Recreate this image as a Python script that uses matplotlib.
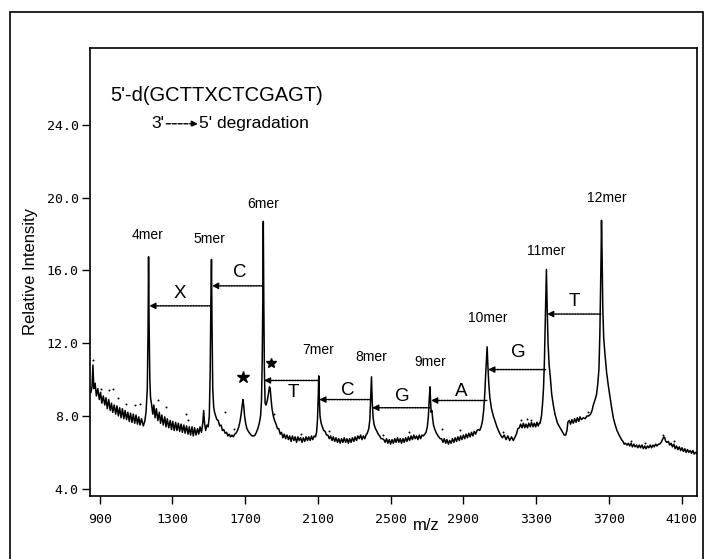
import numpy as np
import matplotlib
matplotlib.use("Agg")
import matplotlib.pyplot as plt
from matplotlib.patches import Rectangle

plt.rcParams['font.family'] = ['Liberation Sans', 'DejaVu Sans']

# spectrum trace as (m/z, relative intensity) pairs
spectrum = [
    (852, 9.3), (858, 9.6), (863, 10.8), (868, 9.5), (875, 9.8), (882, 9.1), (890, 9.5), (898, 8.9),
    (905, 9.3), (912, 8.7), (920, 9.1), (928, 8.6), (935, 9.0), (942, 8.4), (950, 8.9), (958, 8.3),
    (965, 8.7), (972, 8.2), (980, 8.6), (988, 8.1), (995, 8.55), (1003, 8.0), (1010, 8.45), (1018, 7.9),
    (1025, 8.4), (1033, 7.85), (1040, 8.3), (1048, 7.8), (1055, 8.2), (1063, 7.7), (1070, 8.15),
    (1078, 7.65), (1085, 8.1), (1093, 7.6), (1100, 8.05), (1108, 7.55), (1115, 7.95), (1122, 7.5),
    (1130, 7.85), (1140, 7.45), (1148, 7.7), (1155, 8.2), (1162, 9.5), (1166, 12.5), (1169, 16.75),
    (1172, 13.0), (1176, 10.0), (1180, 9.0), (1186, 8.6), (1192, 8.1), (1198, 8.6), (1205, 7.9),
    (1212, 8.4), (1220, 7.75), (1228, 8.2), (1235, 7.6), (1242, 8.05), (1250, 7.5), (1258, 7.95),
    (1265, 7.4), (1272, 7.85), (1280, 7.35), (1288, 7.75), (1295, 7.25), (1302, 7.7), (1310, 7.2),
    (1318, 7.65), (1325, 7.2), (1333, 7.6), (1340, 7.15), (1348, 7.55), (1355, 7.1), (1363, 7.5),
    (1370, 7.05), (1378, 7.45), (1386, 7.0), (1393, 7.4), (1400, 6.95), (1408, 7.4), (1415, 6.9),
    (1422, 7.35), (1430, 6.95), (1438, 7.3), (1445, 7.0), (1452, 7.4), (1460, 7.1), (1467, 7.6),
    (1472, 8.3), (1477, 7.6), (1483, 7.2), (1490, 7.5), (1497, 7.4), (1503, 8.0), (1508, 10.5),
    (1512, 14.5), (1515, 16.6), (1518, 13.0), (1522, 9.5), (1527, 8.5), (1532, 8.2), (1538, 8.0),
    (1545, 7.8), (1552, 7.75), (1560, 7.45), (1568, 7.5), (1575, 7.2), (1583, 7.25), (1590, 7.05),
    (1598, 7.1), (1605, 6.9), (1612, 7.0), (1620, 6.85), (1628, 6.95), (1635, 6.85), (1643, 7.0),
    (1650, 7.05), (1658, 7.2), (1665, 7.4), (1672, 7.7), (1678, 8.1), (1684, 8.6), (1688, 8.9),
    (1692, 8.6), (1697, 8.0), (1703, 7.6), (1710, 7.3), (1718, 7.15), (1725, 7.05), (1733, 6.95),
    (1740, 6.9), (1748, 6.9), (1755, 6.95), (1762, 7.1), (1770, 7.3), (1778, 7.6), (1785, 8.0),
    (1790, 8.8), (1794, 11.0), (1797, 14.0), (1800, 18.7), (1803, 14.0), (1806, 10.5), (1810, 8.7),
    (1815, 8.6), (1821, 8.8), (1828, 9.2), (1834, 9.6), (1838, 9.5), (1842, 9.0), (1848, 8.4),
    (1855, 8.0), (1862, 7.75), (1870, 7.55), (1878, 7.3), (1885, 7.3), (1893, 7.0), (1900, 7.1),
    (1908, 6.8), (1915, 7.0), (1923, 6.75), (1930, 6.95), (1938, 6.7), (1945, 6.9), (1953, 6.6),
    (1960, 6.9), (1968, 6.65), (1975, 6.85), (1983, 6.55), (1990, 6.85), (1998, 6.65), (2005, 6.8),
    (2013, 6.55), (2020, 6.8), (2028, 6.6), (2035, 6.85), (2043, 6.65), (2050, 6.85), (2058, 6.65),
    (2065, 6.9), (2072, 6.7), (2080, 6.9), (2087, 6.85), (2093, 7.1), (2098, 7.8), (2102, 9.0),
    (2105, 10.2), (2108, 9.0), (2112, 8.0), (2118, 7.6), (2125, 7.4), (2132, 7.2), (2140, 7.15),
    (2148, 6.95), (2155, 6.95), (2163, 6.75), (2170, 6.9), (2178, 6.65), (2185, 6.85), (2193, 6.6),
    (2200, 6.8), (2208, 6.55), (2215, 6.75), (2223, 6.5), (2230, 6.75), (2238, 6.55), (2245, 6.8),
    (2253, 6.55), (2260, 6.75), (2268, 6.5), (2275, 6.75), (2283, 6.55), (2290, 6.8), (2298, 6.6),
    (2305, 6.85), (2313, 6.65), (2320, 6.9), (2328, 6.75), (2335, 6.95), (2343, 6.7), (2350, 6.9),
    (2358, 6.75), (2365, 6.95), (2372, 7.05), (2380, 7.3), (2386, 7.8), (2390, 8.8), (2395, 10.15),
    (2399, 8.8), (2404, 7.9), (2410, 7.5), (2417, 7.3), (2425, 7.15), (2432, 7.0), (2440, 6.9),
    (2448, 6.75), (2455, 6.75), (2463, 6.7), (2470, 6.55), (2478, 6.75), (2485, 6.5), (2493, 6.7),
    (2500, 6.45), (2508, 6.7), (2515, 6.5), (2523, 6.75), (2530, 6.55), (2538, 6.8), (2545, 6.55),
    (2553, 6.75), (2560, 6.5), (2568, 6.75), (2575, 6.55), (2583, 6.8), (2590, 6.6), (2598, 6.85),
    (2605, 6.65), (2613, 6.9), (2620, 6.7), (2628, 6.95), (2635, 6.75), (2643, 6.9), (2650, 6.7),
    (2658, 6.95), (2665, 6.75), (2673, 6.95), (2680, 6.9), (2688, 7.0), (2695, 7.1), (2702, 7.4),
    (2708, 8.0), (2713, 9.0), (2717, 9.6), (2720, 8.8), (2723, 8.2), (2727, 8.3), (2731, 7.9),
    (2736, 7.5), (2742, 7.3), (2750, 7.1), (2758, 6.95), (2765, 6.85), (2773, 6.75), (2780, 6.75),
    (2788, 6.55), (2795, 6.75), (2803, 6.5), (2810, 6.7), (2818, 6.45), (2825, 6.65), (2833, 6.5),
    (2840, 6.75), (2848, 6.55), (2855, 6.8), (2863, 6.6), (2870, 6.85), (2878, 6.65), (2885, 6.9),
    (2893, 6.7), (2900, 6.95), (2908, 6.75), (2915, 7.0), (2923, 6.8), (2930, 7.05), (2938, 6.85),
    (2945, 7.1), (2953, 6.9), (2960, 7.15), (2968, 7.0), (2975, 7.2), (2983, 7.25), (2990, 7.2),
    (2998, 7.4), (3005, 7.7), (3012, 8.3), (3018, 9.2), (3023, 10.3), (3027, 11.0), (3031, 11.8),
    (3035, 10.8), (3040, 9.8), (3046, 9.0), (3055, 8.4), (3065, 8.0), (3075, 7.7), (3085, 7.4),
    (3095, 7.15), (3105, 6.95), (3115, 6.8), (3125, 6.95), (3135, 6.7), (3145, 6.9), (3155, 6.65),
    (3165, 6.85), (3175, 6.65), (3185, 6.85), (3192, 7.0), (3200, 7.3), (3208, 7.35), (3215, 7.55),
    (3223, 7.35), (3230, 7.6), (3238, 7.35), (3245, 7.55), (3253, 7.35), (3260, 7.6), (3268, 7.4),
    (3275, 7.65), (3283, 7.4), (3290, 7.6), (3298, 7.4), (3305, 7.65), (3312, 7.45), (3318, 7.6),
    (3322, 7.6), (3330, 8.0), (3336, 8.7), (3341, 9.5), (3346, 11.0), (3350, 12.8), (3354, 14.8),
    (3357, 16.05), (3361, 14.0), (3366, 12.0), (3372, 10.8), (3378, 10.2), (3386, 9.2), (3395, 8.6),
    (3404, 8.1), (3418, 7.6), (3432, 7.35), (3446, 7.1), (3455, 6.95), (3463, 6.95), (3470, 7.2),
    (3475, 7.65), (3482, 7.75), (3490, 7.55), (3497, 7.8), (3505, 7.6), (3512, 7.85), (3520, 7.65),
    (3527, 7.9), (3535, 7.7), (3542, 7.95), (3550, 7.8), (3560, 7.9), (3570, 7.85), (3580, 8.0),
    (3590, 8.0), (3600, 8.1), (3608, 8.3), (3615, 8.6), (3625, 8.9), (3633, 9.2), (3640, 9.8),
    (3646, 10.6), (3651, 12.5), (3655, 15.0), (3658, 17.0), (3660, 18.75), (3663, 17.0), (3667, 14.0),
    (3672, 12.3), (3679, 11.4), (3688, 10.4), (3697, 9.7), (3706, 9.1), (3715, 8.5), (3725, 7.9),
    (3734, 7.55), (3745, 7.2), (3757, 6.95), (3770, 6.7), (3778, 6.6), (3785, 6.45), (3792, 6.5),
    (3800, 6.4), (3808, 6.5), (3815, 6.35), (3823, 6.5), (3830, 6.3), (3838, 6.45), (3845, 6.3),
    (3853, 6.4), (3860, 6.25), (3868, 6.4), (3875, 6.25), (3883, 6.4), (3890, 6.2), (3898, 6.35),
    (3905, 6.2), (3913, 6.35), (3920, 6.25), (3928, 6.4), (3935, 6.25), (3943, 6.4), (3950, 6.3),
    (3958, 6.45), (3965, 6.35), (3973, 6.45), (3980, 6.45), (3988, 6.55), (3995, 6.7), (4003, 6.85),
    (4008, 6.8), (4013, 6.6), (4020, 6.55), (4028, 6.6), (4035, 6.4), (4043, 6.5), (4050, 6.3),
    (4058, 6.45), (4065, 6.2), (4073, 6.35), (4080, 6.15), (4088, 6.3), (4095, 6.1), (4103, 6.25),
    (4110, 6.05), (4118, 6.2), (4125, 6.0), (4133, 6.15), (4140, 6.0), (4148, 6.1), (4155, 5.95),
    (4163, 6.1), (4170, 5.9), (4178, 6.0), (4184, 5.95),
]
mz = [p[0] for p in spectrum]
intensity = [p[1] for p in spectrum]

# faint dotted second trace
dot_mz = [863, 909, 950, 973, 1000, 1046, 1092, 1120, 1221, 1267, 1376, 1386, 1587, 1640, 1860,
          2010, 2160, 2460, 2600, 2781, 2881, 3120, 3220, 3248, 3275, 3586, 3820, 3900, 3998, 4060]
dot_int = [11.1, 9.47, 9.4, 9.47, 9.0, 8.65, 8.6, 8.65, 8.9, 8.5, 8.13, 7.77, 8.22, 7.3, 8.1,
           7.0, 7.2, 6.95, 7.1, 7.3, 7.25, 7.1, 7.8, 7.85, 7.8, 8.2, 6.6, 6.5, 6.95, 6.6]

# peak labels
mer_labels = ['4mer', '5mer', '6mer', '7mer', '8mer', '9mer', '10mer', '11mer', '12mer']
mer_x = [1162, 1505, 1800, 2102, 2395, 2716, 3037, 3357, 3687]
mer_y = [17.95, 17.7, 19.65, 11.6, 11.25, 10.95, 13.4, 17.05, 20.0]

# loss arrows: from peak, to peak, height, residue label and its position
arr_from = [1512, 1797, 2101, 2392, 2716, 3029, 3352, 3656]
arr_to = [1172, 1517, 1803, 2107, 2398, 2722, 3036, 3360]
arr_y = [14.05, 15.15, 9.95, 8.9, 8.45, 8.85, 10.55, 13.6]
res_labels = ['X', 'C', 'T', 'C', 'G', 'A', 'G', 'T']
res_x = [1342, 1668, 1964, 2267, 2567, 2890, 3201, 3513]
res_y = [14.72, 15.87, 9.29, 9.42, 9.07, 9.33, 11.46, 14.3]

star_x = [1688, 1845]
star_y = [10.16, 10.89]

fig = plt.figure(figsize=(7.04, 5.59), dpi=100)
ax = fig.add_axes([0.1276, 0.1127, 0.8624, 0.8023])

ax.plot(mz, intensity, color='black', lw=1.1)
ax.scatter(dot_mz, dot_int, s=2, color='black', lw=0)

for t, x, y in zip(mer_labels, mer_x, mer_y):
    ax.text(x, y, t, ha='center', va='center', fontsize=10)

for x0, x1, y, t, tx, ty in zip(arr_from, arr_to, arr_y, res_labels, res_x, res_y):
    ax.annotate('', xy=(x1, y), xytext=(x0, y),
                arrowprops=dict(arrowstyle='-|>', color='black', lw=1.1, linestyle=(0, (1.0, 0.8)),
                                mutation_scale=9, shrinkA=0, shrinkB=0))
    ax.text(tx, ty, t, ha='center', va='center', fontsize=13.5)

ax.plot(star_x[0], star_y[0], marker='*', color='black', ms=9, ls='none')
ax.plot(star_x[1], star_y[1], marker='*', color='black', ms=7, ls='none')

ax.text(0.033, 0.894, "5'-d(GCTTXCTCGAGT)", transform=ax.transAxes, fontsize=14.5, va='center')
ax.text(0.102, 0.830, "3'", transform=ax.transAxes, fontsize=12.5, va='center')
ax.annotate('', xy=(0.178, 0.830), xytext=(0.126, 0.830), xycoords='axes fraction',
            arrowprops=dict(arrowstyle='-|>', color='black', lw=1.0, linestyle=(0, (3, 1.2)),
                            mutation_scale=9, shrinkA=0, shrinkB=0))
ax.text(0.180, 0.830, "5' degradation", transform=ax.transAxes, fontsize=12.5, va='center')

ax.set_xlim(846, 4185)
ax.set_ylim(3.6, 28.25)
ax.set_xticks(np.arange(900, 4101, 400))
ax.set_yticks(np.arange(4, 24.1, 4))
ax.set_yticklabels(['%.1f' % v for v in np.arange(4, 24.1, 4)])
ax.tick_params(direction='out', length=6, width=1, labelsize=9.5, pad=2)
ax.tick_params(axis='x', pad=6)
for lab in ax.get_xticklabels() + ax.get_yticklabels():
    lab.set_family('DejaVu Sans Mono')
for s in ax.spines.values():
    s.set_linewidth(1.2)

ax.set_ylabel('Relative Intensity', fontsize=12, labelpad=6)
ax.set_xlabel('m/z', fontsize=12)
ax.xaxis.set_label_coords(0.554, -0.05)

# outer frame of the figure
fig.patches.append(Rectangle((0.0142, -0.1), 0.9838, 1.0785, transform=fig.transFigure,
                             fill=False, lw=1.2, color='black'))

fig.savefig('out.png', dpi=100)
